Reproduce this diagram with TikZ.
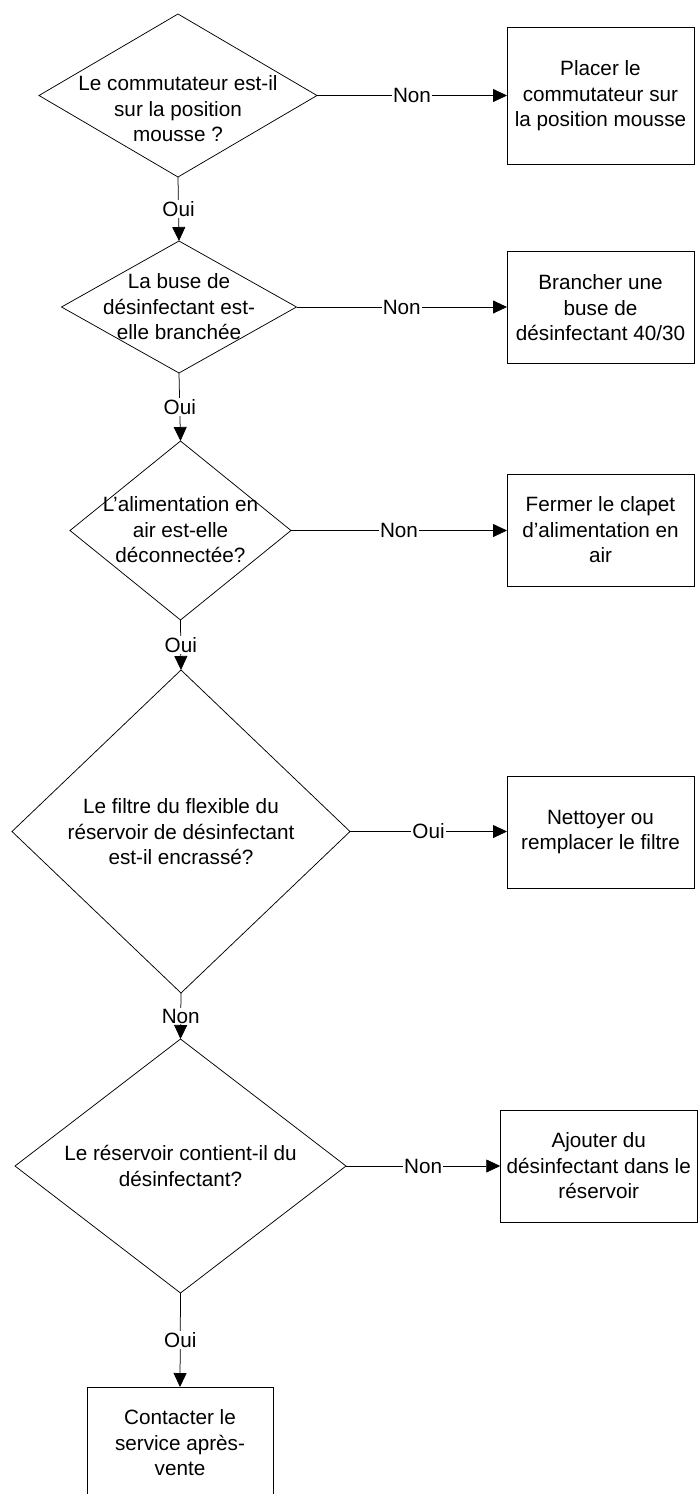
\documentclass[tikz,border=0pt]{standalone}
\usepackage{fontspec}
\setmainfont{Liberation Sans}
\usetikzlibrary{shapes.geometric,arrows.meta}
\tikzset{
  dia/.style={draw, diamond, line width=0.75pt, inner sep=0pt, outer sep=0pt},
  boxnode/.style={draw, rectangle, line width=0.75pt, inner sep=0pt, outer sep=0pt},
  txt/.style={align=center, inner sep=0pt, font=\fontsize{20.7}{25.5}\selectfont},
  conn/.style={line width=0.75pt, -{Triangle[length=14pt,width=13pt]}},
  lbl/.style={fill=white, inner sep=1pt, font=\fontsize{20.7}{25.5}\selectfont}
}
\begin{document}
\begin{tikzpicture}[x=1pt,y=-1pt]
\useasboundingbox (0,0) rectangle (698,1494);
% diamonds
\node[dia, minimum width=278, minimum height=163] (d1) at (178,95.5) {};
\node[txt] (t1) at (178,109) {Le commutateur est-il\\sur la position\\mousse ?};
\node[dia, minimum width=235, minimum height=132] (d2) at (179,307) {};
\node[txt] (t2) at (179,307) {La buse de\\désinfectant est-\\elle branchée};
\node[dia, minimum width=221, minimum height=179] (d3) at (180.5,530.5) {};
\node[txt] (t3) at (180.5,530) {L’alimentation en\\air est-elle\\déconnectée?};
\node[dia, minimum width=338, minimum height=323] (d4) at (181,831.5) {};
\node[txt] (t4) at (181,832) {Le filtre du flexible du\\réservoir de désinfectant\\est-il encrassé?};
\node[dia, minimum width=331, minimum height=254] (d5) at (180.5,1166) {};
\node[txt] (t5) at (180.5,1166) {Le réservoir contient-il du\\désinfectant?};
% boxes
\node[boxnode, minimum width=187, minimum height=137] (b1) at (600.5,95.5) {};
\node[txt] (tb1) at (600.5,96) {Placer le\\commutateur sur\\la position mousse};
\node[boxnode, minimum width=187, minimum height=112] (b2) at (600.5,307) {};
\node[txt] (tb2) at (600.5,308) {Brancher une\\buse de\\désinfectant 40/30};
\node[boxnode, minimum width=187, minimum height=112] (b3) at (600.5,530) {};
\node[txt] (tb3) at (600.5,530) {Fermer le clapet\\d’alimentation en\\air};
\node[boxnode, minimum width=187, minimum height=112] (b4) at (600.5,832) {};
\node[txt] (tb4) at (600.5,832) {Nettoyer ou\\remplacer le filtre};
\node[boxnode, minimum width=197, minimum height=112] (b5) at (598.75,1166) {};
\node[txt] (tb5) at (598.75,1166) {Ajouter du\\désinfectant dans le\\réservoir};
\node[boxnode, minimum width=186, minimum height=112] (b6) at (180,1443) {};
\node[txt] (tb6) at (180,1443) {Contacter le\\service après-\\vente};
% horizontal connectors
\draw[conn] (d1.east) -- node[lbl] (n1) {Non} (b1.west |- d1.east);
\draw[conn] (d2.east) -- node[lbl] (n2) {Non} (b2.west |- d2.east);
\draw[conn] (d3.east) -- node[lbl] (n3) {Non} (b3.west |- d3.east);
\draw[conn] (d4.east) -- node[lbl] (n4) {Oui} (b4.west |- d4.east);
\draw[conn] (d5.east) -- node[lbl] (n5) {Non} (b5.west |- d5.east);
% vertical connectors
\draw[conn] (d1.south) -- node[lbl] (o1) {Oui} (d2.north);
\draw[conn] (d2.south) -- node[lbl] (o2) {Oui} (d3.north);
\draw[conn] (d3.south) -- node[lbl] (o3) {Oui} (d4.north);
\draw[conn] (d4.south) -- node[lbl] (o4) {Non} (d5.north);
\draw[conn] (d5.south) -- node[lbl] (o5) {Oui} (b6.north);
\end{tikzpicture}
\end{document}
